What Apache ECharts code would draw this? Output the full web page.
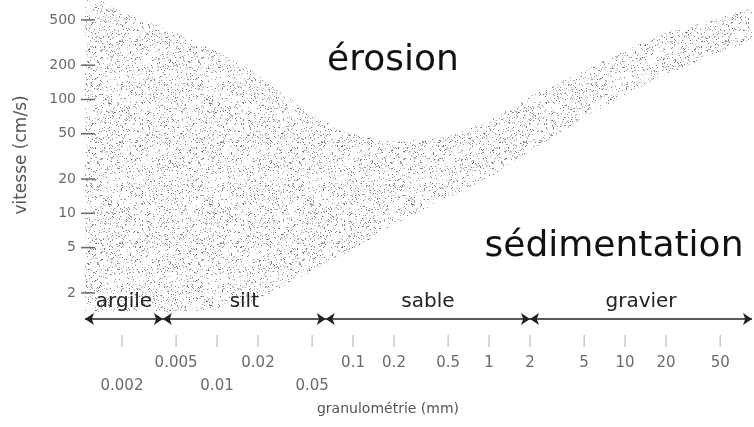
<!DOCTYPE html>
<html><head><meta charset="utf-8">
<script src="https://cdn.jsdelivr.net/npm/echarts/dist/echarts.min.js"></script>
<style>html,body{margin:0;padding:0;background:#fff}#c{width:754px;height:427px}</style>
</head><body><div id="c"></div>
<script>
// grain size (mm) along the erosion band, with the band's upper and lower velocity limits (cm/s)
const bandSize  = [0.001, 0.002, 0.005, 0.01, 0.02, 0.05, 0.1, 0.2, 0.5, 1, 2, 5, 10, 20, 50, 100];
const bandUpper = [916, 587, 385, 262, 165, 73, 50, 43, 47, 66, 106, 182, 273, 385, 520, 677];
const bandLower = [1.37, 1.37, 1.37, 1.43, 1.75, 3.1, 4.8, 8.0, 13.7, 20.6, 35, 69, 110, 165, 262, 348];

const yTicks = [2, 5, 10, 20, 50, 100, 200, 500];
const xTicksRow1 = [0.005, 0.02, 0.1, 0.2, 0.5, 1, 2, 5, 10, 20, 50];
const xTicksRow2 = [0.002, 0.01, 0.05];
const classNames = ['argile', 'silt', 'sable', 'gravier'];
const classBounds = [0.00107, 0.004, 0.063, 2, 85.7];

const X_MIN = 0.00107, X_MAX = 85.7, Y_MIN = 1.18, Y_MAX = 748;
const FONT = 'DejaVu Sans';

function hash(i) { const s = Math.sin(i * 12.9898 + 78.233) * 43758.5453; return s - Math.floor(s); }
function makeStipple() {
  const n = 101;
  const c = document.createElement('canvas'); c.width = c.height = n;
  const ctx = c.getContext('2d');
  const img = ctx.createImageData(n, n);
  for (let i = 0; i < n * n; i++) {
    const r = hash(i);
    if (r < 0.14) {
      const g = Math.floor(110 + hash(i + 7919) * 120);
      img.data[i*4] = g; img.data[i*4+1] = g; img.data[i*4+2] = g; img.data[i*4+3] = 255;
    }
  }
  ctx.putImageData(img, 0, 0);
  return c;
}
const stipple = { type: 'pattern', image: makeStipple(), repeat: 'repeat' };

const chart = echarts.init(document.getElementById('c'));
chart.setOption({
  animation: false,
  grid: { left: 85, right: 2, top: 0, bottom: 108 },
  xAxis: { type: 'log', min: X_MIN, max: X_MAX, axisLine: {show: false}, axisTick: {show: false}, axisLabel: {show: false}, splitLine: {show: false} },
  yAxis: { type: 'log', min: Y_MIN, max: Y_MAX, axisLine: {show: false}, axisTick: {show: false}, axisLabel: {show: false}, splitLine: {show: false} },
  series: [
    {
      type: 'custom', clip: true, silent: true, data: [[1, 10]],
      renderItem: function (params, api) {
        const pts = [];
        for (let i = 0; i < bandSize.length; i++) pts.push(api.coord([bandSize[i], bandUpper[i]]));
        for (let i = bandSize.length - 1; i >= 0; i--) pts.push(api.coord([bandSize[i], bandLower[i]]));
        return { type: 'polygon', shape: { points: pts }, style: { fill: stipple, stroke: null } };
      }
    },
    { // y tick marks
      type: 'scatter', silent: true, clip: false, symbol: 'rect', symbolSize: [14, 1.5], symbolOffset: [3, 0],
      itemStyle: { color: '#444' }, data: yTicks.map(v => [X_MIN, v])
    },
    { // y tick labels
      type: 'scatter', silent: true, clip: false, symbolSize: 1, itemStyle: { color: 'rgba(0,0,0,0)' },
      data: yTicks.map(v => [X_MIN, v]),
      label: { show: true, position: 'inside', align: 'right', offset: [-9, 0], formatter: p => String(p.value[1]),
               fontFamily: FONT, fontSize: 14, color: '#444' }
    },
    { // x tick marks
      type: 'scatter', silent: true, clip: false, symbol: 'rect', symbolSize: [1.2, 12], symbolOffset: [0, 22],
      itemStyle: { color: '#aaa' }, data: xTicksRow1.concat(xTicksRow2).map(d => [d, Y_MIN])
    },
    { // x tick labels, first row
      type: 'scatter', silent: true, clip: false, symbolSize: 1, itemStyle: { color: 'rgba(0,0,0,0)' },
      data: xTicksRow1.map(d => [d, Y_MIN]),
      label: { show: true, position: 'inside', offset: [0, 44], formatter: p => String(p.value[0]),
               fontFamily: FONT, fontSize: 15, color: '#444' }
    },
    { // x tick labels, second row
      type: 'scatter', silent: true, clip: false, symbolSize: 1, itemStyle: { color: 'rgba(0,0,0,0)' },
      data: xTicksRow2.map(d => [d, Y_MIN]),
      label: { show: true, position: 'inside', offset: [0, 67], formatter: p => String(p.value[0]),
               fontFamily: FONT, fontSize: 15, color: '#444' }
    },
    { // size classes with arrows
      type: 'line', silent: true, symbol: 'none', lineStyle: { opacity: 0 }, data: [[X_MIN, Y_MIN]],
      markLine: {
        silent: true, symbol: ['arrow', 'arrow'], symbolSize: 9, animation: false,
        lineStyle: { color: '#222', width: 1.5, type: 'solid' },
        label: { show: true, position: 'insideMiddleTop', distance: 7, formatter: '{b}',
                 fontFamily: FONT, fontSize: 20, color: '#222' },
        emphasis: { disabled: true },
        data: classNames.map((n, i) => [{ name: n, coord: [classBounds[i], Y_MIN] }, { coord: [classBounds[i + 1], Y_MIN] }])
      }
    }
  ],
  graphic: [
    { type: 'text', x: 393, y: 61, style: { text: 'érosion', font: '36px "DejaVu Sans"', fill: '#111', align: 'center', verticalAlign: 'middle' } },
    { type: 'text', x: 614, y: 247, style: { text: 'sédimentation', font: '36px "DejaVu Sans"', fill: '#111', align: 'center', verticalAlign: 'middle' } },
    { type: 'text', x: 22, y: 155, rotation: Math.PI / 2, style: { text: 'vitesse (cm/s)', font: '17px "DejaVu Sans"', fill: '#555', align: 'center', verticalAlign: 'middle' } },
    { type: 'text', x: 388, y: 409, style: { text: 'granulométrie (mm)', font: '14px "DejaVu Sans"', fill: '#555', align: 'center', verticalAlign: 'middle' } }
  ]
});
</script>
</body></html>
